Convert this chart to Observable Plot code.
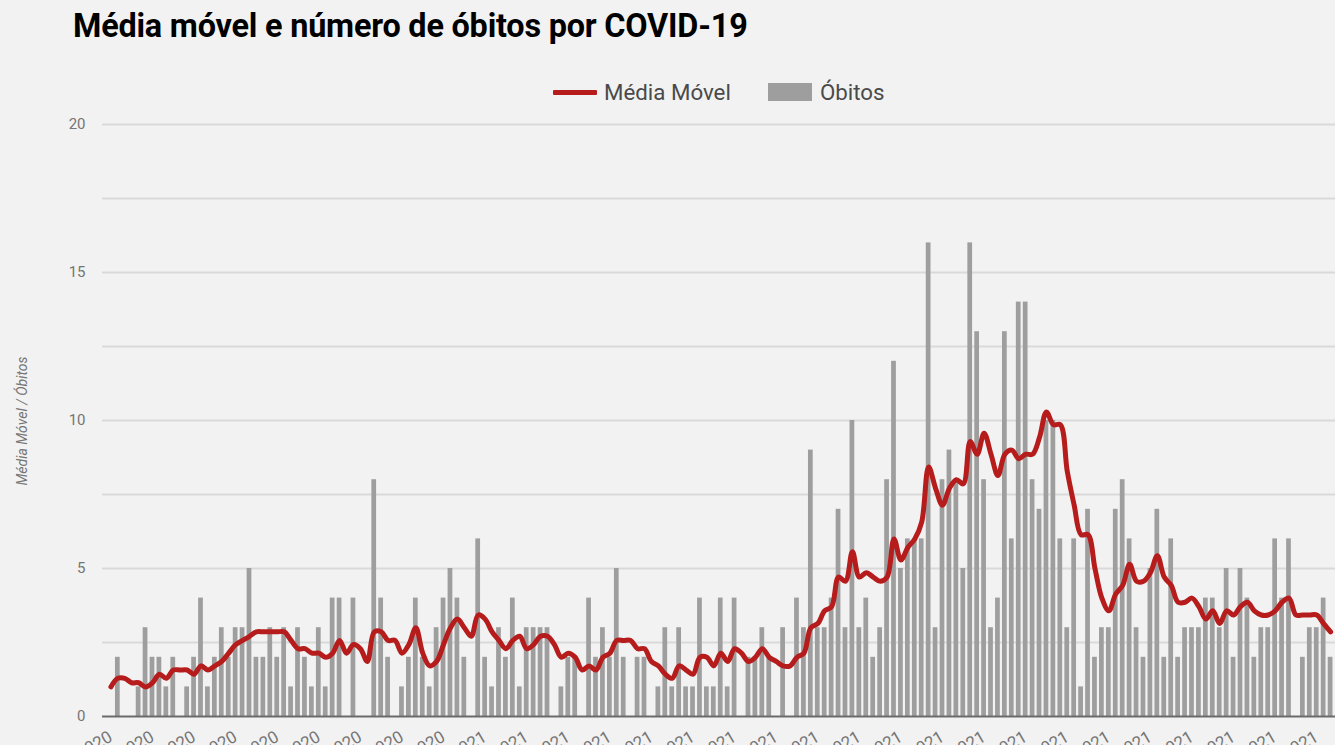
<!DOCTYPE html>
<html>
<head>
<meta charset="utf-8">
<script src="https://cdn.jsdelivr.net/npm/d3@7"></script>
<script src="https://cdn.jsdelivr.net/npm/@observablehq/plot@0.6"></script>
<style>
  html, body { margin: 0; padding: 0; background: #f2f2f2; width: 1335px; height: 745px; overflow: hidden; }
  #wrap { position: relative; width: 1335px; height: 745px; overflow: hidden; font-family: Roboto, "Noto Sans", sans-serif; }
  #title { position: absolute; left: 73px; top: 7px; font-size: 32.4px; font-weight: 700; color: #000; white-space: nowrap; letter-spacing: -0.2px; }
  #legend { position: absolute; left: 553px; top: 78px; height: 28px; display: flex; align-items: center; font-size: 22.3px; color: #4a4a4a; white-space: nowrap; }
  #legend .ln { display: inline-block; width: 44px; height: 5px; background: #b71c1c; margin-right: 7px; border-radius: 1px; }
  #legend .bx { display: inline-block; width: 44px; height: 18px; background: #9e9e9e; margin-left: 37px; margin-right: 8px; }
  #ylab { position: absolute; left: 22px; top: 421px; transform: translate(-50%, -50%) rotate(-90deg); font-size: 14px; font-style: italic; color: #757575; white-space: nowrap; }
  #chart { position: absolute; left: 0; top: 0; }
</style>
</head>
<body>
<div id="wrap">
  <div id="chart"></div>
  <div id="title">Média móvel e número de óbitos por COVID-19</div>
  <div id="legend"><span class="ln"></span><span>Média Móvel</span><span class="bx"></span><span>Óbitos</span></div>
  <div id="ylab">Média Móvel / Óbitos</div>
</div>
<script>
// ---- data ----
const startDate = "2020-11-08";
const seriesNames = ["Média Móvel", "Óbitos"];
const obitos = [
  0, 2, 0, 0, 1, 3, 2, 2, 1, 2,
  0, 1, 2, 4, 1, 2, 3, 2, 3, 3,
  5, 2, 2, 3, 2, 3, 1, 3, 2, 1,
  3, 1, 4, 4, 0, 4, 0, 0, 8, 4,
  2, 0, 1, 2, 4, 2, 1, 3, 4, 5,
  4, 2, 0, 6, 2, 1, 3, 2, 4, 1,
  3, 3, 3, 3, 0, 1, 2, 2, 0, 4,
  2, 3, 2, 5, 2, 0, 2, 2, 0, 1,
  3, 1, 3, 1, 1, 4, 1, 1, 4, 1,
  4, 0, 2, 2, 3, 2, 0, 3, 0, 4,
  3, 9, 3, 3, 4, 7, 3, 10, 3, 4,
  2, 3, 8, 12, 5, 6, 6, 6, 16, 3,
  8, 9, 8, 5, 16, 13, 8, 3, 4, 13,
  6, 14, 14, 8, 7, 10, 10, 6, 3, 6,
  1, 7, 2, 3, 3, 7, 8, 6, 3, 2,
  5, 7, 2, 6, 2, 3, 3, 3, 4, 4,
  3, 5, 2, 5, 4, 2, 3, 3, 6, 4,
  6, 0, 2, 3, 3, 4, 2
];
const mediaMovel = [
  1.0, 1.29, 1.29, 1.14, 1.14, 1.0, 1.14, 1.43, 1.29, 1.57,
  1.57, 1.57, 1.43, 1.71, 1.57, 1.71, 1.86, 2.14, 2.43, 2.57,
  2.71, 2.86, 2.86, 2.86, 2.86, 2.86, 2.57, 2.29, 2.29, 2.14,
  2.14, 2.0, 2.14, 2.57, 2.14, 2.43, 2.29, 1.86, 2.86, 2.86,
  2.57, 2.57, 2.14, 2.43, 3.0, 2.14, 1.71, 1.86, 2.43, 3.0,
  3.29, 3.0, 2.71, 3.43, 3.29, 2.86, 2.57, 2.29, 2.57, 2.71,
  2.29, 2.43, 2.71, 2.71, 2.43, 2.0, 2.14, 2.0, 1.57, 1.71,
  1.57, 2.0, 2.14, 2.57, 2.57, 2.57, 2.29, 2.29, 1.86, 1.71,
  1.43, 1.29, 1.71, 1.57, 1.43, 2.0, 2.0, 1.71, 2.14, 1.86,
  2.29, 2.14, 1.86, 2.0, 2.29, 2.0, 1.86, 1.71, 1.71, 2.0,
  2.14, 3.0, 3.14, 3.57, 3.71, 4.71, 4.57, 5.57, 4.71, 4.86,
  4.71, 4.57, 4.71, 6.0, 5.29, 5.71, 6.0, 6.57, 8.43, 7.71,
  7.14, 7.71, 8.0, 7.86, 9.29, 8.86, 9.57, 8.86, 8.14, 8.86,
  9.0, 8.71, 8.86, 8.86, 9.43, 10.29, 9.86, 9.86, 8.29, 7.14,
  6.14, 6.14, 5.0, 4.0, 3.57, 4.14, 4.43, 5.14, 4.57, 4.57,
  4.86, 5.43, 4.71, 4.43, 3.86, 3.86, 4.0, 3.71, 3.29, 3.57,
  3.14, 3.57, 3.43, 3.71, 3.86, 3.57, 3.43, 3.43, 3.57, 3.86,
  4.0, 3.43, 3.43, 3.43, 3.43, 3.14, 2.86
];
const yTickLabels = [0, 5, 10, 15, 20];
const gridValues = [2.5, 5, 7.5, 10, 12.5, 15, 17.5, 20];
const tickStep = 6; // a date label every 6 days

// ---- build table ----
const day0 = d3.utcParse("%Y-%m-%d")(startDate);
const HALF = 12 * 3600 * 1000;
const table = obitos.map((v, i) => {
  const start = d3.utcDay.offset(day0, i);
  return {
    start,
    end: d3.utcDay.offset(day0, i + 1),
    mid: new Date(+start + HALF),
    obitos: v,
    media: mediaMovel[i]
  };
});
const tickDates = table.filter((d, i) => i % tickStep === 0).map(d => d.mid);

const chart = Plot.plot({
  width: 1335,
  height: 800,
  marginLeft: 102,
  marginRight: 0,
  marginTop: 124,
  marginBottom: 84,
  style: { background: "transparent", fontFamily: "Roboto, sans-serif", fontSize: "15px", color: "#757575", overflow: "visible" },
  x: {
    type: "utc",
    domain: [new Date(+day0 - 0.712 * 86400000), new Date(+day0 + 177.21 * 86400000)],
    ticks: tickDates,
    tickFormat: d3.utcFormat("%d/%m/%Y"),
    tickRotate: -30,
    tickSize: 0,
    tickPadding: 19,
    label: null
  },
  y: {
    domain: [0, 20],
    ticks: yTickLabels,
    tickSize: 0,
    tickPadding: 17,
    label: null
  },
  marks: [
    Plot.ruleY(gridValues, { stroke: "#d9d9d9", strokeWidth: 2 }),
    Plot.rectY(table.filter(d => d.obitos > 0), {
      x1: "start", x2: "end", y1: 0, y2: "obitos",
      insetLeft: 1.1, insetRight: 1.1, fill: "#9e9e9e"
    }),
    Plot.ruleY([0], { stroke: "#6b6b6b", strokeWidth: 2 }),
    Plot.line(table, {
      x: "mid", y: "media", stroke: "#b71c1c", strokeWidth: 5,
      curve: "catmull-rom", strokeLinejoin: "round", strokeLinecap: "round"
    })
  ]
});
chart.querySelectorAll("g[aria-label='x-axis tick label'] text, g[aria-label='x-axis'] text").forEach(t => t.style.fontSize = "17px");
document.getElementById("chart").appendChild(chart);
</script>
</body>
</html>
